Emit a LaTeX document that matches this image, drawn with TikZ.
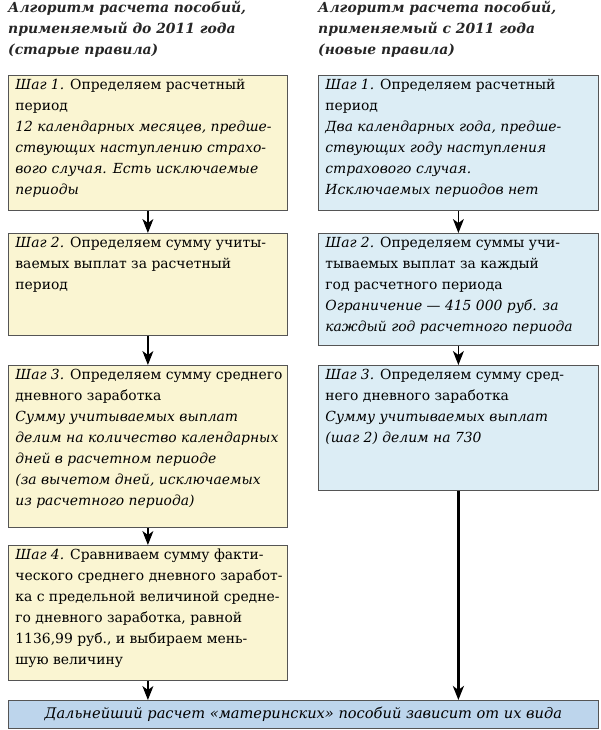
\documentclass[tikz,border=0pt]{standalone}
\usepackage{fontspec}
\setmainfont{DejaVu Serif}
\usetikzlibrary{arrows.meta}
\definecolor{yel}{HTML}{FAF5D2}
\definecolor{blu}{HTML}{DCEDF5}
\definecolor{bot}{HTML}{BDD5EC}
\definecolor{ln}{HTML}{555555}
\tikzset{
 box/.style={draw=ln,line width=0.8pt,anchor=north west,inner sep=0pt,font=\fontsize{13.9}{21}\selectfont},
 hdr/.style={anchor=north west,inner sep=0pt,font=\fontsize{13.9}{21}\selectfont\bfseries\itshape,align=left,text=black!85},
 arr/.style={-{Stealth[length=14pt,width=11pt,inset=4pt]},line width=1.3pt},
}
\newcommand{\bx}[3]{\parbox[t][#1][t]{#2}{\vspace{4pt}\hspace*{7pt}\parbox[t]{270pt}{\raggedright #3}}}
\begin{document}
\begin{tikzpicture}[x=1pt,y=-1pt]
\useasboundingbox (0,0) rectangle (600,730);
\node[hdr] (hl) at (8,1) {Алгоритм расчета пособий,\\применяемый до 2011 года\\(старые правила)};
\node[hdr] (hr) at (318,1) {Алгоритм расчета пособий,\\применяемый с 2011 года\\(новые правила)};
\node[box,fill=yel] (l1) at (8,75) {\bx{135pt}{279pt}{\textit{Шаг 1.} Определяем расчетный\\период\\\textit{12 календарных месяцев, предше-\\ствующих наступлению страхо-\\вого случая. Есть исключаемые\\периоды}}};
\node[box,fill=yel] (l2) at (8,233) {\bx{102pt}{279pt}{\textit{Шаг 2.} Определяем сумму учиты-\\ваемых выплат за расчетный\\период}};
\node[box,fill=yel] (l3) at (8,365) {\bx{162pt}{279pt}{\textit{Шаг 3.} Определяем сумму среднего\\дневного заработка\\\textit{Сумму учитываемых выплат\\делим на количество календарных\\дней в расчетном периоде\\(за вычетом дней, исключаемых\\из расчетного периода)}}};
\node[box,fill=yel] (l4) at (8,545) {\bx{135pt}{279pt}{\textit{Шаг 4.} Сравниваем сумму факти-\\ческого среднего дневного заработ-\\ка с предельной величиной средне-\\го дневного заработка, равной\\1136,99 руб., и выбираем мень-\\шую величину}};
\node[box,fill=blu] (r1) at (318,75) {\bx{135pt}{280pt}{\textit{Шаг 1.} Определяем расчетный\\период\\\textit{Два календарных года, предше-\\ствующих году наступления\\страхового случая.\\Исключаемых периодов нет}}};
\node[box,fill=blu] (r2) at (318,233) {\bx{112pt}{280pt}{\textit{Шаг 2.} Определяем суммы учи-\\тываемых выплат за каждый\\год расчетного периода\\\textit{Ограничение — 415 000 руб. за\\каждый год расчетного периода}}};
\node[box,fill=blu] (r3) at (318,365) {\bx{125pt}{280pt}{\textit{Шаг 3.} Определяем сумму сред-\\него дневного заработка\\\textit{Сумму учитываемых выплат\\(шаг 2) делим на 730}}};
\node[box,fill=bot,anchor=north west,minimum width=590pt,minimum height=28pt,font=\fontsize{14.6}{18}\selectfont\itshape] (b) at (8,700) {\textit{Дальнейший расчет «материнских» пособий зависит от их вида}};
\draw[arr] (l1.south) -- (l2.north);
\draw[arr] (l2.south) -- (l3.north);
\draw[arr] (l3.south) -- (l4.north);
\draw[arr] (l4.south) -- (l4.south |- b.north);
\draw[arr] (r1.south) -- (r2.north);
\draw[arr] (r2.south) -- (r3.north);
\draw[arr,line width=2.6pt] (r3.south) -- (r3.south |- b.north);
\end{tikzpicture}
\end{document}
